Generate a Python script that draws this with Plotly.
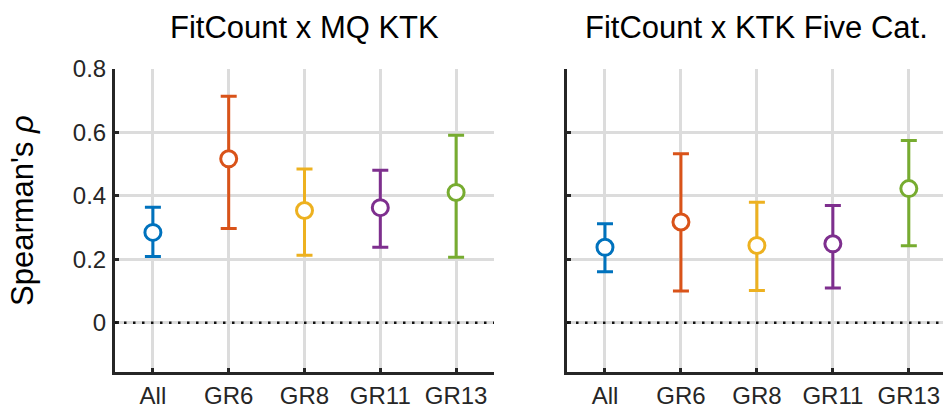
import plotly.graph_objects as go

# Spearman correlations with confidence intervals per group
groups = ["All", "GR6", "GR8", "GR11", "GR13"]
positions = [1, 2, 3, 4, 5]
colors = ["#0072BD", "#D95319", "#EDB120", "#7E2F8E", "#77AC30"]

# FitCount x MQ KTK
mq_rho = [0.285, 0.517, 0.354, 0.363, 0.411]
mq_upper = [0.364, 0.714, 0.485, 0.481, 0.591]
mq_lower = [0.209, 0.297, 0.213, 0.238, 0.207]

# FitCount x KTK Five Cat.
five_rho = [0.238, 0.318, 0.244, 0.249, 0.423]
five_upper = [0.312, 0.533, 0.380, 0.370, 0.575]
five_lower = [0.161, 0.100, 0.102, 0.110, 0.243]

titles = ["FitCount x MQ KTK", "FitCount x KTK Five Cat."]
y_ticks = [0, 0.2, 0.4, 0.6, 0.8]

W, H = 943, 410
FONT = "Liberation Sans, Arial, sans-serif"
AXIS_COLOR = "#262626"
GRID_COLOR = "#dcdcdc"

fig = go.Figure()

panels = [
    ("x", "y", mq_rho, mq_upper, mq_lower),
    ("x2", "y2", five_rho, five_upper, five_lower),
]
for xa, ya, rho, up, lo in panels:
    for i in range(len(groups)):
        fig.add_trace(go.Scatter(
            x=[positions[i]], y=[rho[i]],
            xaxis=xa, yaxis=ya,
            mode="markers",
            marker=dict(symbol="circle", size=16, color="white",
                        line=dict(color=colors[i], width=3)),
            error_y=dict(type="data", symmetric=False,
                         array=[up[i] - rho[i]],
                         arrayminus=[rho[i] - lo[i]],
                         color=colors[i], thickness=3, width=8),
            showlegend=False, hoverinfo="skip",
        ))

# plot area in pixels
y_top, y_bot = 69, 372
ydom = [1 - y_bot / H, 1 - y_top / H]

axis_common = dict(
    showline=True, linecolor=AXIS_COLOR, linewidth=3,
    ticks="inside", ticklen=4, tickwidth=3, tickcolor=AXIS_COLOR,
    showgrid=True, gridcolor=GRID_COLOR, gridwidth=3,
    zeroline=False, mirror=False, automargin=False,
    fixedrange=True,
)

fig.update_layout(
    width=W, height=H,
    margin=dict(l=0, r=0, t=0, b=0),
    paper_bgcolor="white", plot_bgcolor="white",
    xaxis=dict(domain=[115 / W, 494 / W], range=[0.5, 5.5],
               tickvals=positions, ticktext=groups, anchor="y",
               tickfont=dict(family=FONT, size=24, color=AXIS_COLOR),
               ticklabelstandoff=0, **axis_common),
    yaxis=dict(domain=ydom, range=[-0.155, 0.8], tickvals=y_ticks,
               ticktext=["0", "0.2", "0.4", "0.6", "0.8"], anchor="x",
               tickfont=dict(family=FONT, size=24, color=AXIS_COLOR),
               ticklabelstandoff=1, **axis_common),
    xaxis2=dict(domain=[567 / W, 1.0], range=[0.5, 5.45],
                tickvals=positions, ticktext=groups, anchor="y2",
                tickfont=dict(family=FONT, size=24, color=AXIS_COLOR),
                ticklabelstandoff=0, **axis_common),
    yaxis2=dict(domain=ydom, range=[-0.155, 0.8], tickvals=y_ticks,
                showticklabels=False, anchor="x2", **axis_common),
)

# dotted zero reference line in each panel
for xr, yr in [("x domain", "y"), ("x2 domain", "y2")]:
    fig.add_shape(type="line", xref=xr, yref=yr, x0=0, x1=1, y0=0, y1=0,
                  line=dict(color="#111111", width=2.5, dash="2.5px,6.5px"))

# panel titles
for xr, t in [("x", titles[0]), ("x2", titles[1])]:
    fig.add_annotation(x=3, xref=xr, y=1 - 27 / H, yref="paper",
                       text=t, showarrow=False, xanchor="center",
                       yanchor="middle",
                       font=dict(family=FONT, size=31, color="#000000"))

# y-axis label
fig.add_annotation(x=22 / W, xref="paper", y=1 - 211 / H, yref="paper",
                   text="Spearman's <i>ρ</i>", textangle=-90,
                   showarrow=False, xanchor="center", yanchor="middle",
                   font=dict(family=FONT, size=31, color="#000000"))

fig.write_html("out.html")
